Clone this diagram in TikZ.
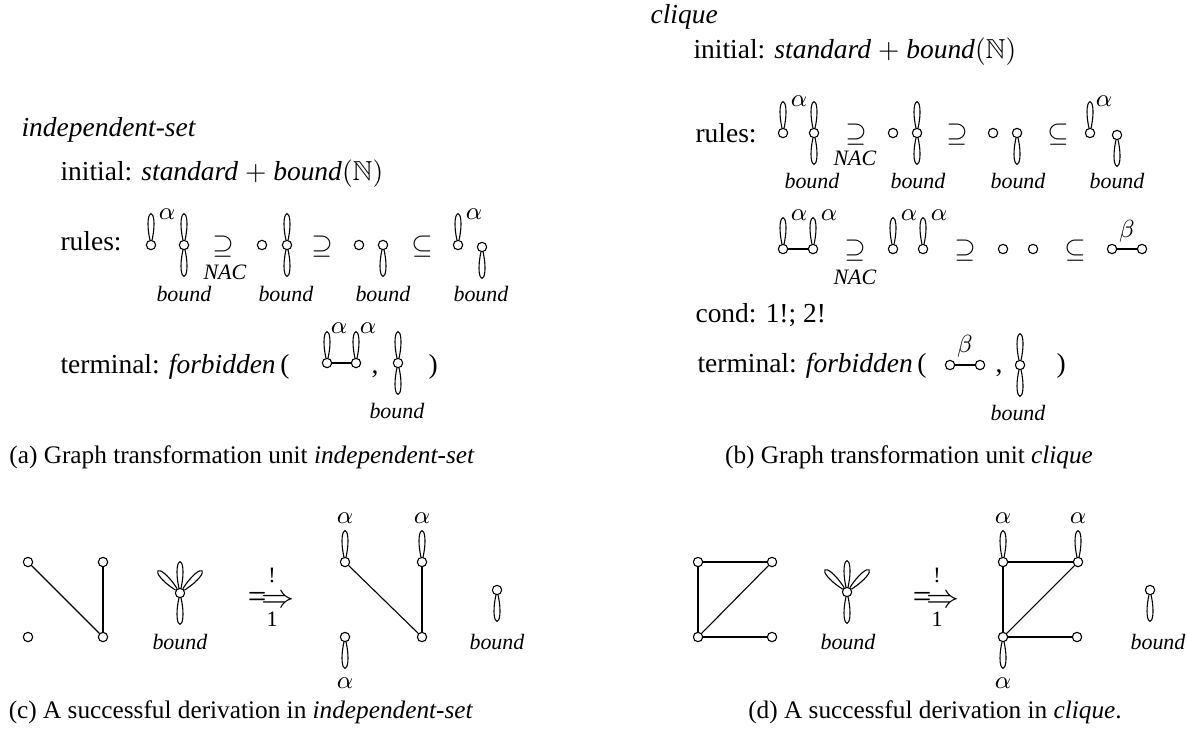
\documentclass[tikz,border=0pt]{standalone}
\usepackage{amsmath}
\usepackage{amssymb}
\usepackage{fontspec}
\setmainfont{Liberation Serif}

\begin{document}
\begin{tikzpicture}[x=0.364pt, y=-0.364pt,
        main/.style = {draw, circle, inner sep=0pt, minimum size=3.4pt},
        txt/.style = {anchor=base west, inner sep=0pt},
        lbl/.style = {inner sep=0pt, font=\footnotesize},
        grk/.style = {inner sep=0pt, font=\small},
        capt/.style = {anchor=base, inner sep=0pt, font=\fontsize{9.2pt}{11pt}\selectfont},
        lup/.style = {out=78, in=102, min distance=13pt},
        ldown/.style = {out=258, in=282, min distance=13pt},
        lleft/.style = {out=123, in=147, min distance=13pt},
        lright/.style = {out=33, in=57, min distance=13pt}]
    \useasboundingbox (0,0) rectangle (1188,742);

    % (a) unit independent-set
    \node[txt] (ta) at (21,136) {\textit{independent-set}};
    \node[txt] (ia) at (60,180) {initial: \textit{standard} $+$ \textit{bound}$(\mathbb{N})$};
    \node[txt] (ra) at (60,250) {rules:};
    \node[main] (a1) at (151,245) {};
    \node[main] (a2) at (184,245) {};
    \node[main] (a3) at (262,245) {};
    \node[main] (a4) at (287,245) {};
    \node[main] (a5) at (359,245) {};
    \node[main] (a6) at (383,245) {};
    \node[main] (a7) at (458,245) {};
    \node[main] (a8) at (482,247) {};
    \draw (a1) to[lup] (a1);
    \draw (a2) to[lup] (a2);
    \draw (a2) to[ldown] (a2);
    \draw (a4) to[lup] (a4);
    \draw (a4) to[ldown] (a4);
    \draw (a6) to[ldown] (a6);
    \draw (a7) to[lup] (a7);
    \draw (a8) to[ldown] (a8);
    \node[grk] (aa1) at (167,214) {$\alpha$};
    \node[grk] (aa7) at (474,214) {$\alpha$};
    \node (sa1) at (223,247) {$\supseteq$};
    \node[lbl] (na1) at (225,272) {\textit{NAC}};
    \node (sa2) at (322,247) {$\supseteq$};
    \node (sa3) at (422,247) {$\subseteq$};
    \node[lbl] (ba2) at (184,294) {\textit{bound}};
    \node[lbl] (ba4) at (286,294) {\textit{bound}};
    \node[lbl] (ba6) at (383,294) {\textit{bound}};
    \node[lbl] (ba8) at (481,294) {\textit{bound}};

    \node[txt] (tra) at (60,373) {terminal: \textit{forbidden\/}\,(};
    \node[main] (t1) at (327,363) {};
    \node[main] (t2) at (356,363) {};
    \node[main] (t3) at (398,363) {};
    \draw (t1) -- (t2);
    \draw (t1) to[lup] (t1);
    \draw (t2) to[lup] (t2);
    \draw (t3) to[lup] (t3);
    \draw (t3) to[ldown] (t3);
    \node[grk] (at1) at (339,328) {$\alpha$};
    \node[grk] (at2) at (368,328) {$\alpha$};
    \node[txt] (ca) at (371,373) {,};
    \node[lbl] (bt3) at (397,411) {\textit{bound}};
    \node[txt] (pa) at (428,373) {)};
    \node[capt] (capa) at (242,463) {(a) Graph transformation unit \textit{independent-set}};

    % (b) unit clique
    \node[txt] (tb) at (650,23) {\textit{clique}};
    \node[txt] (ib) at (693,58) {initial: \textit{standard} $+$ \textit{bound}$(\mathbb{N})$};
    \node[txt] (rb) at (695,142) {rules:};
    \node[main] (b1) at (783,133) {};
    \node[main] (b2) at (814,133) {};
    \node[main] (b3) at (893,133) {};
    \node[main] (b4) at (917,133) {};
    \node[main] (b5) at (993,133) {};
    \node[main] (b6) at (1017,133) {};
    \node[main] (b7) at (1090,133) {};
    \node[main] (b8) at (1117,135) {};
    \draw (b1) to[lup] (b1);
    \draw (b2) to[lup] (b2);
    \draw (b2) to[ldown] (b2);
    \draw (b4) to[lup] (b4);
    \draw (b4) to[ldown] (b4);
    \draw (b6) to[ldown] (b6);
    \draw (b7) to[lup] (b7);
    \draw (b8) to[ldown] (b8);
    \node[grk] (ab1) at (799,101) {$\alpha$};
    \node[grk] (ab7) at (1104,101) {$\alpha$};
    \node (sb1) at (856,135) {$\supseteq$};
    \node[lbl] (nb1) at (855,158) {\textit{NAC}};
    \node (sb2) at (957,135) {$\supseteq$};
    \node (sb3) at (1058,135) {$\subseteq$};
    \node[lbl] (bb2) at (812,181) {\textit{bound}};
    \node[lbl] (bb4) at (918,181) {\textit{bound}};
    \node[lbl] (bb6) at (1018,181) {\textit{bound}};
    \node[lbl] (bb8) at (1117,181) {\textit{bound}};

    \node[main] (c1) at (783,249) {};
    \node[main] (c2) at (813,249) {};
    \node[main] (c3) at (893,249) {};
    \node[main] (c4) at (923,249) {};
    \node[main] (c5) at (1003,249) {};
    \node[main] (c6) at (1033,249) {};
    \node[main] (c7) at (1112,249) {};
    \node[main] (c8) at (1142,249) {};
    \draw (c1) -- (c2);
    \draw (c7) -- (c8);
    \draw (c1) to[lup] (c1);
    \draw (c2) to[lup] (c2);
    \draw (c3) to[lup] (c3);
    \draw (c4) to[lup] (c4);
    \node[grk] (ac1) at (799,215) {$\alpha$};
    \node[grk] (ac2) at (829,215) {$\alpha$};
    \node[grk] (ac3) at (909,215) {$\alpha$};
    \node[grk] (ac4) at (939,215) {$\alpha$};
    \node[grk] (bc7) at (1127,231) {$\beta$};
    \node (sc1) at (855,251) {$\supseteq$};
    \node[lbl] (nc1) at (855,277) {\textit{NAC}};
    \node (sc2) at (965,251) {$\supseteq$};
    \node (sc3) at (1075,251) {$\subseteq$};

    \node[txt] (cb) at (695,322) {cond: 1!; 2!};
    \node[txt] (trb) at (697,372) {terminal: \textit{forbidden\/}\,(};
    \node[main] (d1) at (950,365) {};
    \node[main] (d2) at (980,365) {};
    \node[main] (d3) at (1020,365) {};
    \draw (d1) -- (d2);
    \draw (d3) to[lup] (d3);
    \draw (d3) to[ldown] (d3);
    \node[grk] (bd1) at (965,346) {$\beta$};
    \node[txt] (cbb) at (995,372) {,};
    \node[lbl] (bd3) at (1018,413) {\textit{bound}};
    \node[txt] (pb) at (1056,372) {)};
    \node[capt] (capb) at (909,463) {(b) Graph transformation unit \textit{clique}};

    % (c) derivation in independent-set
    \node[main] (g1) at (28,562) {};
    \node[main] (g2) at (103,562) {};
    \node[main] (g3) at (28,637) {};
    \node[main] (g4) at (103,637) {};
    \draw (g1) -- (g4);
    \draw (g2) -- (g4);
    \node[main] (f1) at (180,593) {};
    \draw (f1) to[lup] (f1);
    \draw (f1) to[lleft] (f1);
    \draw (f1) to[lright] (f1);
    \draw (f1) to[ldown] (f1);
    \node[lbl] (bf1) at (180,642) {\textit{bound}};
    \node[inner sep=0pt, font=\large] (da1) at (271,600) {$\Longrightarrow$};
    \node[lbl] (xa1) at (272,575) {!};
    \node[lbl] (ya1) at (272,619) {1};
    \node[main] (h1) at (345,562) {};
    \node[main] (h2) at (422,562) {};
    \node[main] (h3) at (345,637) {};
    \node[main] (h4) at (422,637) {};
    \draw (h1) -- (h4);
    \draw (h2) -- (h4);
    \draw (h1) to[lup] (h1);
    \draw (h2) to[lup] (h2);
    \draw (h3) to[ldown] (h3);
    \node[grk] (ah1) at (345,518) {$\alpha$};
    \node[grk] (ah2) at (422,518) {$\alpha$};
    \node[grk] (ah3) at (345,683) {$\alpha$};
    \node[main] (h5) at (497,590) {};
    \draw (h5) to[ldown] (h5);
    \node[lbl] (bh5) at (497,642) {\textit{bound}};
    \node[capt] (capc) at (241,718) {(c) A successful derivation in \textit{independent-set}};

    % (d) derivation in clique
    \node[main] (k1) at (698,562) {};
    \node[main] (k2) at (772,562) {};
    \node[main] (k3) at (698,637) {};
    \node[main] (k4) at (772,637) {};
    \draw (k1) -- (k2);
    \draw (k1) -- (k3);
    \draw (k3) -- (k2);
    \draw (k3) -- (k4);
    \node[main] (f2) at (847,592) {};
    \draw (f2) to[lup] (f2);
    \draw (f2) to[lleft] (f2);
    \draw (f2) to[lright] (f2);
    \draw (f2) to[ldown] (f2);
    \node[lbl] (bf2) at (848,642) {\textit{bound}};
    \node[inner sep=0pt, font=\large] (da2) at (936,600) {$\Longrightarrow$};
    \node[lbl] (xa2) at (937,575) {!};
    \node[lbl] (ya2) at (937,619) {1};
    \node[main] (m1) at (1003,562) {};
    \node[main] (m2) at (1078,562) {};
    \node[main] (m3) at (1003,637) {};
    \node[main] (m4) at (1077,637) {};
    \draw (m1) -- (m2);
    \draw (m1) -- (m3);
    \draw (m3) -- (m2);
    \draw (m3) -- (m4);
    \draw (m1) to[lup] (m1);
    \draw (m2) to[lup] (m2);
    \draw (m3) to[ldown] (m3);
    \node[grk] (am1) at (1003,518) {$\alpha$};
    \node[grk] (am2) at (1078,518) {$\alpha$};
    \node[grk] (am3) at (1003,683) {$\alpha$};
    \node[main] (m5) at (1150,590) {};
    \draw (m5) to[ldown] (m5);
    \node[lbl] (bm5) at (1158,642) {\textit{bound}};
    \node[capt] (capd) at (935,718) {(d) A successful derivation in \textit{clique}.};
\end{tikzpicture}
\end{document}
